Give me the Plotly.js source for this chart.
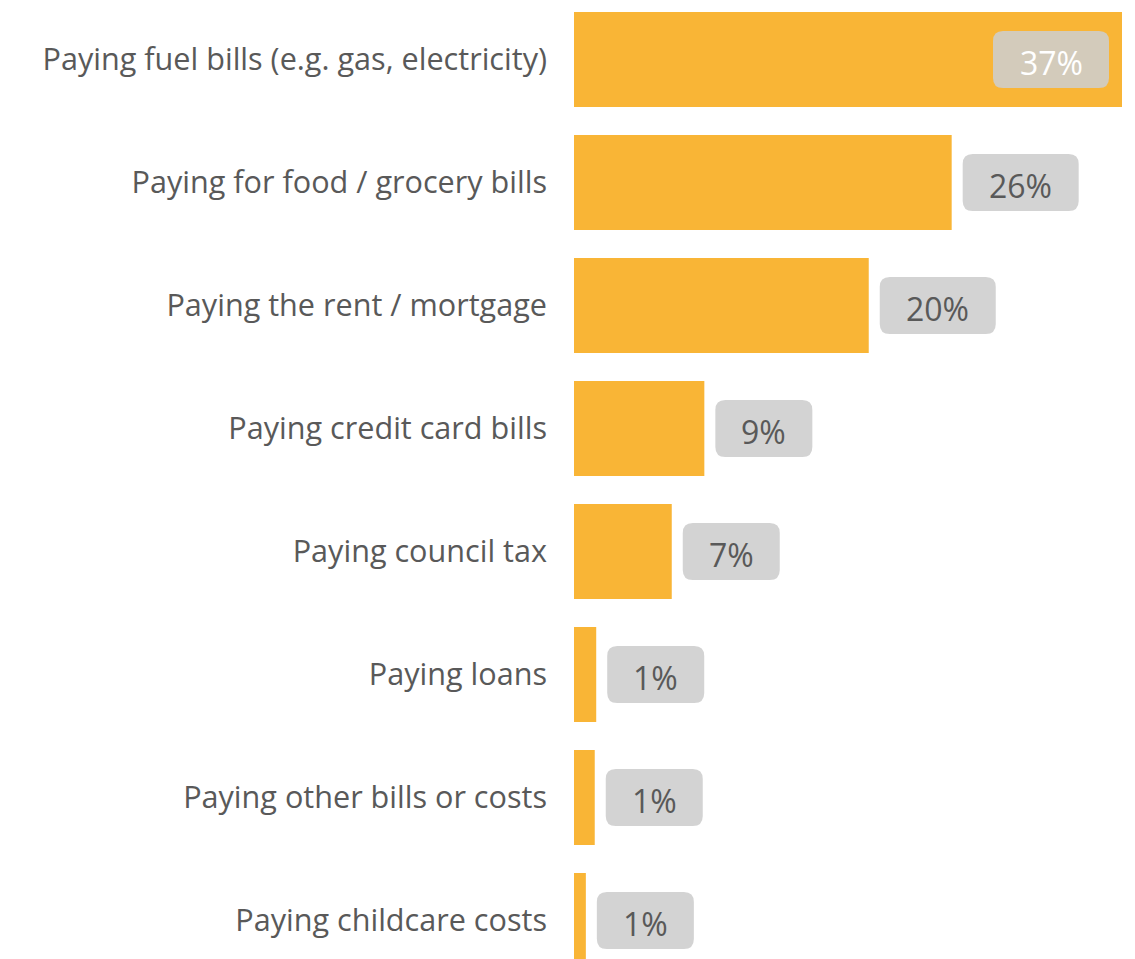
<!DOCTYPE html>
<html>
<head>
<meta charset="utf-8">
<script src="https://cdn.plot.ly/plotly-3.0.1.min.js"></script>
<style>
html,body{margin:0;padding:0;background:#fff;}
#chart{width:1135px;height:959px;}
</style>
</head>
<body>
<div id="chart"></div>
<script>
const categories = [
  "Paying fuel bills (e.g. gas, electricity)",
  "Paying for food / grocery bills",
  "Paying the rent / mortgage",
  "Paying credit card bills",
  "Paying council tax",
  "Paying loans",
  "Paying other bills or costs",
  "Paying childcare costs"
];
const values = [37.0, 25.5, 19.9, 8.8, 6.6, 1.5, 1.4, 0.8];
const valueLabels = ["37%", "26%", "20%", "9%", "7%", "1%", "1%", "1%"];

const FONT = "Open Sans, Noto Sans, sans-serif";
const TEXT = "#595959";
const BAR = "#F9B536";
const xMax = Math.max(...values);
const idx = categories.map((_, i) => i);

function roundRect(x0, x1, h, r) {
  const y0 = -h / 2, y1 = h / 2;
  return `M${x0 + r},${y0} L${x1 - r},${y0} Q${x1},${y0} ${x1},${y0 + r} ` +
         `L${x1},${y1 - r} Q${x1},${y1} ${x1 - r},${y1} L${x0 + r},${y1} ` +
         `Q${x0},${y1} ${x0},${y1 - r} L${x0},${y0 + r} Q${x0},${y0} ${x0 + r},${y0} Z`;
}

const plotW = 1135 - 574 - 13;
const shapes = [];
const annotations = [];
values.forEach((v, i) => {
  const w = 59 + 19 * valueLabels[i].length;
  const h = 57;
  const endPx = v / xMax * plotW;
  const inside = endPx + 11 + w > plotW;
  const x0 = inside ? -13 - w : 11;
  const x1 = x0 + w;
  shapes.push({
    type: "path", xref: "x", yref: "y",
    xsizemode: "pixel", ysizemode: "pixel",
    xanchor: v, yanchor: i,
    path: roundRect(x0, x1, h, 10),
    fillcolor: inside ? "#D3CBBB" : "#D3D3D3",
    line: {width: 0}, layer: "above"
  });
  annotations.push({
    x: v, y: i, xref: "x", yref: "y",
    xshift: (x0 + x1) / 2, yshift: -3,
    text: valueLabels[i], showarrow: false,
    font: {family: FONT, size: 32, color: inside ? "#FFFFFF" : TEXT},
    xanchor: "center", yanchor: "middle"
  });
});

const data = [{
  type: "bar", orientation: "h",
  x: values, y: idx,
  marker: {color: BAR},
  width: 0.772,
  hoverinfo: "skip"
}];

const layout = {
  width: 1135, height: 959,
  margin: {l: 574, r: 13, t: 0, b: 0, pad: 0},
  paper_bgcolor: "#fff", plot_bgcolor: "#fff",
  showlegend: false,
  xaxis: {range: [0, xMax], visible: false, fixedrange: true},
  yaxis: {
    range: [7.313, -0.484],
    tickmode: "array", tickvals: idx, ticktext: categories,
    showgrid: false, zeroline: false, showline: false,
    ticks: "", ticklabelstandoff: 26,
    tickfont: {family: FONT, size: 30.6, color: TEXT},
    fixedrange: true
  },
  shapes: shapes,
  annotations: annotations
};

Plotly.newPlot("chart", data, layout, {displayModeBar: false, staticPlot: true});
</script>
</body>
</html>
